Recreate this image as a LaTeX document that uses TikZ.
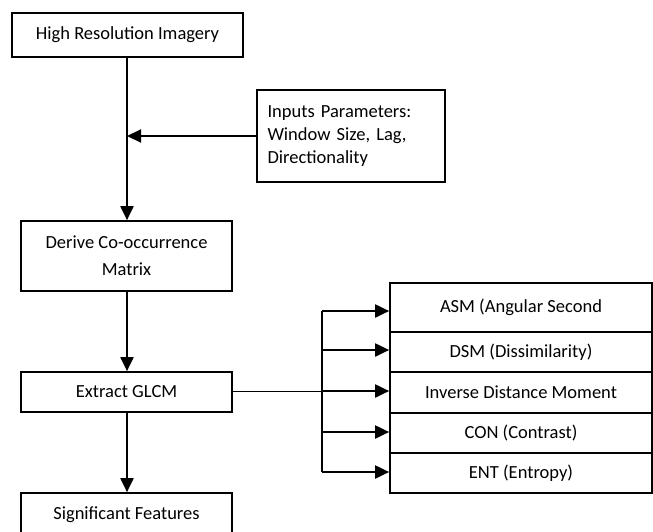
\documentclass[tikz,border=0pt]{standalone}
\usepackage{fontspec}
\setmainfont{Carlito}
\usetikzlibrary{arrows.meta}
\frenchspacing
\begin{document}
\begin{tikzpicture}[x=1pt,y=-1pt,
  box/.style={draw,line width=1.7pt,minimum width=#1,inner sep=0pt,align=center,font=\fontsize{18.5}{23}\selectfont},
  box/.default=211pt,
  flow/.style={line width=2pt,-{Triangle[length=14pt,width=13pt]}},
  thinline/.style={line width=1pt}]
\useasboundingbox (0,0) rectangle (653,531);
\node[box=231pt,minimum height=44pt] (high) at (127.5,35) {High Resolution Imagery};
\node[box=188pt,minimum height=92pt,align=left,text width=167pt,inner xsep=0pt] (inp) at (351,136)
  {Inputs Parameters:\\Window Size, Lag,\\Directionality};
\node[box,minimum height=70pt,font=\fontsize{18.5}{27}\selectfont] (derive) at (126.5,256) {Derive Co-occurrence\\Matrix};
\node[box,minimum height=40pt] (extract) at (126.5,392) {Extract GLCM};
\node[box,minimum height=44pt] (sig) at (126.5,515) {Significant Features};
\node[box=262pt,minimum height=49pt] (asm) at (521,307.5) {ASM (Angular Second};
\node[box=262pt,minimum height=40pt] (dsm) at (521,352) {DSM (Dissimilarity)};
\node[box=262pt,minimum height=41pt] (idm) at (521,392.5) {Inverse Distance Moment};
\node[box=262pt,minimum height=40pt] (con) at (521,433) {CON (Contrast)};
\node[box=262pt,minimum height=40pt] (ent) at (521,473) {ENT (Entropy)};
\coordinate (j) at (127,136);
\coordinate (b1) at (322,311);
\coordinate (b2) at (322,350);
\coordinate (b3) at (322,391);
\coordinate (b4) at (322,432);
\coordinate (b5) at (322,472);
\draw[flow] (high.south -| j) -- (derive.north -| j);
\draw[flow] (inp.west |- j) -- (j);
\draw[flow] (derive.south -| j) -- (extract.north -| j);
\draw[flow] (extract.south -| j) -- (sig.north -| j);
\draw[thinline] (extract.east |- b3) -- (b3);
\draw[line width=2pt] (b1) -- (b5);
\draw[flow] (b1) -- (b1 -| asm.west);
\draw[flow] (b2) -- (b2 -| dsm.west);
\draw[flow] (b3) -- (b3 -| idm.west);
\draw[flow] (b4) -- (b4 -| con.west);
\draw[flow] (b5) -- (b5 -| ent.west);
\end{tikzpicture}
\end{document}
